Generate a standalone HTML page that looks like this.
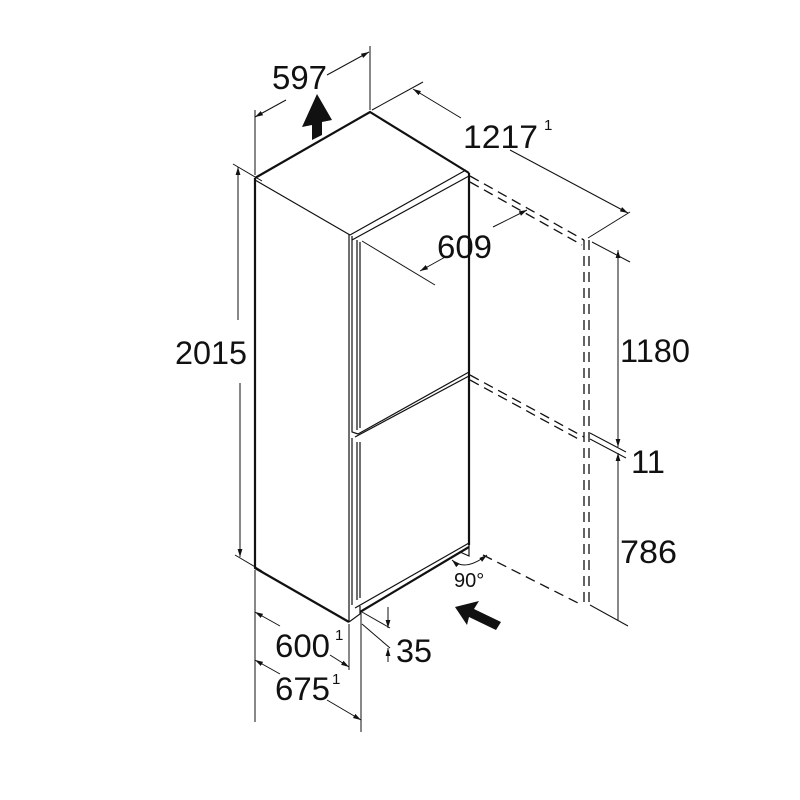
<!DOCTYPE html>
<html><head><style>body{margin:0;background:#fff}svg{display:block}text{font-family:"Liberation Sans",sans-serif;fill:#111}</style></head>
<body>
<svg width="800" height="800" viewBox="0 0 800 800" xmlns="http://www.w3.org/2000/svg">
<defs>
<marker id="a" viewBox="0 0 10 10" refX="10" refY="5" markerWidth="8" markerHeight="8" orient="auto-start-reverse"><path d="M0,2 L10,5 L0,8 z" fill="#111"/></marker>
</defs>
<g stroke="#111" fill="none">
<g stroke-width="2.2">
<path d="M255,178 L370,112 L469,173"/>
<path d="M255,178 L255,568 L349,622"/>
<path d="M469,173 L469,545"/>
<path d="M360,612 L469,547"/>
</g>
<g stroke-width="1.2">
<path d="M255,180 L350,235"/>
<path d="M349,234 L349,622"/>
<path d="M350,235 L466,170"/>
<path d="M352,240 L469,176"/>
<path d="M352,236 L352,432 L358,434"/>
<path d="M357,240 L357,430"/>
<path d="M360,242 L360,428"/>
<path d="M358,434 L469,372"/>
<path d="M352,438 L352,605"/>
<path d="M357,442 L357,600"/>
<path d="M360,442 L360,598"/>
<path d="M355,437 L469,376"/>
<path d="M355,608 L469,543"/>
<path d="M349,622 L360,614 L360,606"/>
<path d="M460,552 L469,556 L469,545"/>
</g>
<g stroke-width="1.3" stroke-dasharray="10,6">
<path d="M470,176 L584,240"/>
<path d="M470,182 L582,245"/>
<path d="M584,240 L584,605"/>
<path d="M589,240 L589,605"/>
<path d="M470,375 L584,437"/>
<path d="M470,380 L582,441"/>
<path d="M483,555 L582,605"/>
</g>
<g stroke-width="1">
<path d="M255,175 L255,110"/><path d="M370,110 L370,46"/>
<path d="M255,117 L286,100" marker-start="url(#a)"/>
<path d="M327,75 L369,52" marker-end="url(#a)"/>
<path d="M372,110 L423,82"/>
<path d="M413,89 L461,118" marker-start="url(#a)"/>
<path d="M510,150 L628,213" marker-end="url(#a)"/>
<path d="M588,238 L630,212"/>
<path d="M420,271 L447,256" marker-start="url(#a)"/>
<path d="M493,227 L527,210" marker-end="url(#a)"/>
<path d="M362,241 L435,285"/>
<path d="M233,164 L262,181"/>
<path d="M235,555 L262,571"/>
<path d="M238,320 L238,167" marker-end="url(#a)"/>
<path d="M240,383 L240,557" marker-end="url(#a)"/>
<path d="M592,242 L630,262"/>
<path d="M590,433 L626,452"/>
<path d="M590,439 L626,458"/>
<path d="M590,605 L628,626"/>
<path d="M618,250 L618,447" marker-start="url(#a)" marker-end="url(#a)"/>
<path d="M618,453 L618,620" marker-start="url(#a)"/>
<path d="M255,570 L255,722"/>
<path d="M349,624 L349,670"/>
<path d="M361,612 L361,732"/>
<path d="M255,612 L280,626" marker-start="url(#a)"/>
<path d="M330,655 L349,667" marker-end="url(#a)"/>
<path d="M255,660 L280,674" marker-start="url(#a)"/>
<path d="M327,700 L361,720" marker-end="url(#a)"/>
<path d="M362,612 L390,628"/>
<path d="M362,624 L390,648"/>
<path d="M388,607 L388,628" marker-end="url(#a)"/>
<path d="M388,662 L388,648" marker-end="url(#a)"/>
<path d="M452,560 Q465,572 487,555" marker-start="url(#a)" marker-end="url(#a)"/>
</g>
</g>
<path d="M312,140 L312,125 L302,127 L317,94 L332,120 L322,122 L322,135 z" fill="#111"/>
<path d="M455,607 L479,601 L474,609 L501,622 L496,630 L469,617 L467,625 z" fill="#111"/>
<g font-size="32">
<text x="272" y="89" font-size="33" textLength="55" lengthAdjust="spacingAndGlyphs">597</text>
<text x="463" y="148" textLength="75" lengthAdjust="spacingAndGlyphs">1217</text>
<text x="437" y="258" textLength="55" lengthAdjust="spacingAndGlyphs">609</text>
<text x="175" y="364" textLength="72" lengthAdjust="spacingAndGlyphs">2015</text>
<text x="620" y="362" textLength="70" lengthAdjust="spacingAndGlyphs">1180</text>
<text x="631" y="473" textLength="34" lengthAdjust="spacingAndGlyphs">11</text>
<text x="620" y="563" textLength="57" lengthAdjust="spacingAndGlyphs">786</text>
<text x="275" y="657" textLength="55" lengthAdjust="spacingAndGlyphs">600</text>
<text x="275" y="700" textLength="55" lengthAdjust="spacingAndGlyphs">675</text>
<text x="396" y="662" textLength="36" lengthAdjust="spacingAndGlyphs">35</text>
</g>
<g font-size="15">
<text x="544" y="130">1</text>
<text x="335" y="640">1</text>
<text x="332" y="684">1</text>
</g>
<text x="454" y="587" font-size="20">90°</text>
</svg>
</body></html>
